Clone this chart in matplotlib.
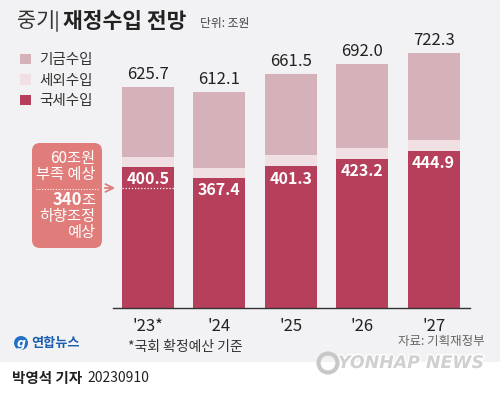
import matplotlib
matplotlib.use("Agg")
import matplotlib.pyplot as plt
import matplotlib.patheffects as pe
from matplotlib.patches import FancyBboxPatch, Rectangle, Circle

plt.rcParams["font.family"] = ["Noto Sans CJK KR", "DejaVu Sans"]

# ── Data ──────────────────────────────────────────────
years = ["'23*", "'24", "'25", "'26", "'27"]
national_tax = [400.5, 367.4, 401.3, 423.2, 444.9]   # 국세수입
non_tax = [26.5, 29.2, 33.0, 30.5, 30.0]             # 세외수입
fund = [198.7, 215.5, 227.2, 238.3, 247.4]           # 기금수입
totals = [625.7, 612.1, 661.5, 692.0, 722.3]
cut_line = 340

# ── Colours ──────────────────────────────────────────
BG = "#f2f2f4"
C_TAX = "#b6405b"
C_NONTAX = "#f0e0e3"
C_FUND = "#d5b1b9"
C_CALLOUT = "#e07c7a"

W, H = 500, 393
fig = plt.figure(figsize=(W / 100, H / 100), dpi=100, facecolor=BG)

# overlay in pixel coordinates for decorations
deco = fig.add_axes([0, 0, 1, 1], zorder=0)
deco.set_xlim(0, W)
deco.set_ylim(H, 0)
deco.axis("off")
deco.patch.set_alpha(0)

# bar axes: baseline at y=308px, 0.353 px per unit
base_px, top_px = 308, 40
ax = fig.add_axes([113 / W, (H - base_px) / H, 357 / W, (base_px - top_px) / H], zorder=2)
ax.patch.set_alpha(0)
x = list(range(len(years)))
bw = 0.73
bottom2 = [a + b for a, b in zip(national_tax, non_tax)]
b1 = ax.bar(x, national_tax, width=bw, color=C_TAX, label="국세수입")
b2 = ax.bar(x, non_tax, width=bw, bottom=national_tax, color=C_NONTAX, label="세외수입")
b3 = ax.bar(x, fund, width=bw, bottom=bottom2, color=C_FUND, label="기금수입")
ax.set_xlim(-0.49, 4.51)
ax.set_ylim(0, (base_px - top_px) / 0.353)
for s in ["top", "right", "left"]:
    ax.spines[s].set_visible(False)
ax.spines["bottom"].set_color("#333333")
ax.spines["bottom"].set_linewidth(1)
ax.set_yticks([])
ax.set_xticks(x)
ax.set_xticklabels(years, fontsize=12, color="#222222")
ax.tick_params(axis="x", length=0, pad=7)

for i in x:
    ax.annotate(f"{totals[i]:.1f}", (i, totals[i]), xytext=(0, 3), textcoords="offset points",
                ha="center", va="bottom", fontsize=12, color="#222222")
    ax.annotate(f"{national_tax[i]:.1f}", (i, national_tax[i]), xytext=(0, -3),
                textcoords="offset points", ha="center", va="top", fontsize=11.5,
                fontweight="bold", color="white")

# 340조 line on first bar + arrow from callout
ax.hlines(cut_line, -bw / 2, bw / 2, colors="white", linestyles=(0, (1, 1.5)), lw=0.9)
ax.annotate("", xy=(-0.42, cut_line), xytext=(-0.645, cut_line),
            arrowprops=dict(arrowstyle="->", color=C_CALLOUT, lw=1.3,
                            mutation_scale=14), annotation_clip=False)

# legend
handles = [b3, b2, b1]
fig.legend(handles, [h.get_label() for h in handles], loc="upper left",
           bbox_to_anchor=(20 / W, 1 - 53 / H), frameon=False, fontsize=10.5,
           handlelength=0.75, handleheight=0.75, handletextpad=0.55,
           labelspacing=0.45, borderpad=0, borderaxespad=0, labelcolor="#333333")

# ── Title ────────────────────────────────────────────
deco.text(17, 21, "중기", fontsize=15, fontweight="light", color="#333333",
          va="center", ha="left")
deco.plot([57, 57], [12, 31], color="#444444", lw=1.1)
deco.text(63, 21, "재정수입 전망", fontsize=15.5, fontweight="bold", color="#222222",
          va="center", ha="left")
deco.text(200, 23, "단위: 조원", fontsize=8.5, color="#444444", va="center", ha="left")

# ── Callout box ──────────────────────────────────────
deco.add_patch(FancyBboxPatch((32, 143), 70, 105, boxstyle="round,pad=0,rounding_size=8",
                              fc=C_CALLOUT, ec="none"))
deco.plot([36, 98], [189, 189], color="white", lw=0.8, ls=(0, (1, 1.5)))
deco.text(95, 159, "60조원", fontsize=11, color="white", ha="right", va="center")
deco.text(95, 175, "부족 예상", fontsize=11, color="white", ha="right", va="center")
deco.text(95, 200, "조", fontsize=11, color="white", ha="right", va="center")
deco.text(82.5, 200, "340", fontsize=12, fontweight="bold", color="white", ha="right",
          va="center")
deco.text(95, 216, "하향조정", fontsize=11, color="white", ha="right", va="center")
deco.text(95, 232, "예상", fontsize=11, color="white", ha="right", va="center")

# ── Footer ───────────────────────────────────────────
deco.text(128, 347, "*국회 확정예산 기준", fontsize=10, color="#333333", va="center")
deco.text(485, 342, "자료: 기획재정부", fontsize=9, color="#666666", va="center", ha="right")
deco.add_patch(Circle((21, 343), 7, fc="#2470c4", ec="none"))
deco.text(21, 343, "g", fontsize=9, color="white", style="italic", fontweight="bold",
          ha="center", va="center", family="DejaVu Sans")
deco.text(31, 343, "연합뉴스", fontsize=9.5, color="#1d5fae", fontweight="bold", va="center")

deco.add_patch(Rectangle((0, 362), W, H - 362, fc="white", ec="none", zorder=0))
deco.add_patch(Circle((328, 363), 9.5, fc="none", ec="#c8c8c8", lw=3, zorder=1))
deco.text(338, 363, "YONHAP NEWS", fontsize=12.5, fontweight="bold", style="italic",
          color="#d0d0d0", va="center", ha="left", family="DejaVu Sans",
          path_effects=[pe.withStroke(linewidth=2, foreground="white")], zorder=1)
deco.text(12, 378, "박영석 기자", fontsize=10.5, fontweight="bold", color="#222222", va="center")
deco.text(87, 378, "20230910", fontsize=10, color="#222222", va="center")

fig.savefig("out.png", dpi=100, facecolor=BG)
